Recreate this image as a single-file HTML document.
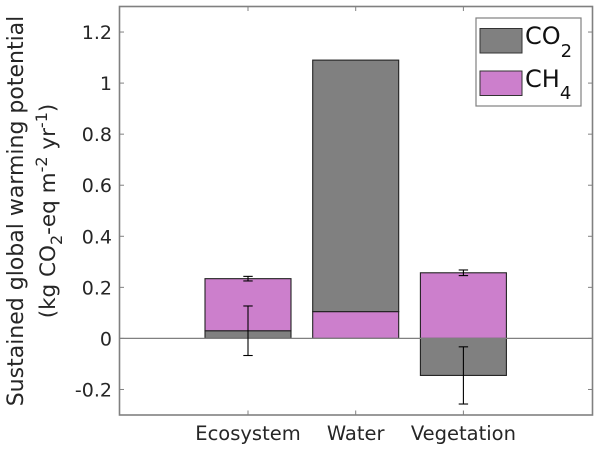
<!DOCTYPE html>
<html>
<head>
<meta charset="utf-8">
<style>
html,body{margin:0;padding:0;background:#fff;width:600px;height:451px;overflow:hidden}
svg{display:block;filter:blur(0.35px)}
text{font-family:"DejaVu Sans",sans-serif;fill:#262626}
</style>
</head>
<body>
<svg id="chart" width="600" height="451" viewBox="0 0 600 451" xmlns="http://www.w3.org/2000/svg">
  <g id="bars"></g>
  <line id="zero" stroke="#808080" stroke-width="1.2"></line>
  <g id="errs"></g>
  <g id="axes"></g>
  <text transform="translate(23,211) rotate(-90)" text-anchor="middle" font-size="22">Sustained global warming potential</text>
  <text transform="translate(55,211) rotate(-90)" text-anchor="middle" font-size="21.5">(kg CO<tspan font-size="16" dy="7">2</tspan><tspan dy="-7">-eq m</tspan><tspan font-size="16" dy="-8">-2</tspan><tspan dy="8"> yr</tspan><tspan font-size="16" dy="-8">-1</tspan><tspan dy="8">)</tspan></text>
  <g>
    <rect x="476" y="18" width="105" height="88" fill="#fff" stroke="#808080" stroke-width="1.2"></rect>
    <rect x="480" y="28.5" width="42" height="24.5" fill="#808080" stroke="#333" stroke-width="1"></rect>
    <rect x="480" y="71" width="42" height="24.5" fill="#cc7fcc" stroke="#333" stroke-width="1"></rect>
    <text x="525" y="44" font-size="24" style="fill:#111">CO<tspan font-size="18" dy="13">2</tspan></text>
    <text x="525" y="87" font-size="24" style="fill:#111">CH<tspan font-size="18" dy="12">4</tspan></text>
  </g>
</svg>
<script>
const categories = ['Ecosystem', 'Water', 'Vegetation'];
const co2Values = [0.03, 0.985, -0.145];
const ch4Values = [0.204, 0.105, 0.257];
const lowerSeries = ['co2', 'ch4', 'co2'];
const co2Err = [0.097, 0, 0.112];
const ch4Err = [0.009, 0, 0.011];
const yTickValues = [-0.2, 0, 0.2, 0.4, 0.6, 0.8, 1, 1.2];
const yTickLabels = ['-0.2', '0', '0.2', '0.4', '0.6', '0.8', '1', '1.2'];

const NS = 'http://www.w3.org/2000/svg';
const L = 119.5, R = 592.5, T = 6.5, B = 415;
const yMin = -0.3, yMax = 1.3;
const xCenter0 = 248, xStep = 107.7, barW = 86;
const COLORS = { co2: '#808080', ch4: '#cc7fcc' };

function X(i) { return xCenter0 + i * xStep; }
function Y(v) { return B - (v - yMin) / (yMax - yMin) * (B - T); }
function mk(tag, attrs, parent) {
  const e = document.createElementNS(NS, tag);
  for (const k in attrs) e.setAttribute(k, attrs[k]);
  parent.appendChild(e);
  return e;
}

const barsG = document.getElementById('bars');
const errsG = document.getElementById('errs');
const axesG = document.getElementById('axes');

function drawBar(i, series, from, to) {
  const y1 = Y(Math.max(from, to));
  const y2 = Y(Math.min(from, to));
  const r = mk('rect', { x: X(i) - barW / 2, y: y1, width: barW, height: y2 - y1, fill: COLORS[series], stroke: '#222', 'stroke-width': 1.1 }, barsG);
  
  
}

function drawErr(i, series, center, err) {
  if (!err) return;
  const g = mk('g', { stroke: '#000', 'stroke-width': 1.1 }, errsG);
  
  
  const x = X(i), hi = Y(center + err), lo = Y(center - err);
  mk('line', { x1: x, x2: x, y1: hi, y2: lo }, g);
  mk('line', { x1: x - 4.7, x2: x + 4.7, y1: hi, y2: hi }, g);
  mk('line', { x1: x - 4.7, x2: x + 4.7, y1: lo, y2: lo }, g);
}

categories.forEach(function (c, i) {
  const co2 = co2Values[i], ch4 = ch4Values[i];
  let co2Center, ch4Center;
  if (co2 < 0) {
    drawBar(i, 'co2', 0, co2);
    drawBar(i, 'ch4', 0, ch4);
    co2Center = co2;
    ch4Center = ch4;
  } else if (lowerSeries[i] === 'co2') {
    drawBar(i, 'co2', 0, co2);
    drawBar(i, 'ch4', co2, co2 + ch4);
    co2Center = co2;
    ch4Center = co2 + ch4;
  } else {
    drawBar(i, 'ch4', 0, ch4);
    drawBar(i, 'co2', ch4, ch4 + co2);
    co2Center = ch4 + co2;
    ch4Center = ch4;
  }
  drawErr(i, 'co2', co2Center, co2Err[i]);
  drawErr(i, 'ch4', ch4Center, ch4Err[i]);
});

const zero = document.getElementById('zero');
zero.setAttribute('x1', L);
zero.setAttribute('x2', R);
zero.setAttribute('y1', Y(0));
zero.setAttribute('y2', Y(0));

const frame = mk('rect', { x: L, y: T, width: R - L, height: B - T, fill: 'none', stroke: '#808080', 'stroke-width': 1.6 }, axesG);



yTickValues.forEach(function (v, i) {
  const y = Y(v);
  const t1 = mk('line', { x1: L, x2: L + 4.5, y1: y, y2: y, stroke: '#808080', 'stroke-width': 1 }, axesG);
  
  
  const t2 = mk('line', { x1: R, x2: R - 4.5, y1: y, y2: y, stroke: '#808080', 'stroke-width': 1 }, axesG);
  
  
  const lab = mk('text', { x: 112, y: y + 7, 'text-anchor': 'end', 'font-size': 19 }, axesG);
  
  
  lab.textContent = yTickLabels[i];
});

categories.forEach(function (c, i) {
  const x = X(i);
  const t1 = mk('line', { x1: x, x2: x, y1: B, y2: B - 4.5, stroke: '#808080', 'stroke-width': 1 }, axesG);
  
  
  const t2 = mk('line', { x1: x, x2: x, y1: T, y2: T + 4.5, stroke: '#808080', 'stroke-width': 1 }, axesG);
  
  
  const lab = mk('text', { x: x, y: 440, 'text-anchor': 'middle', 'font-size': 19.5 }, axesG);
  
  
  lab.textContent = c;
});
</script>
</body>
</html>
